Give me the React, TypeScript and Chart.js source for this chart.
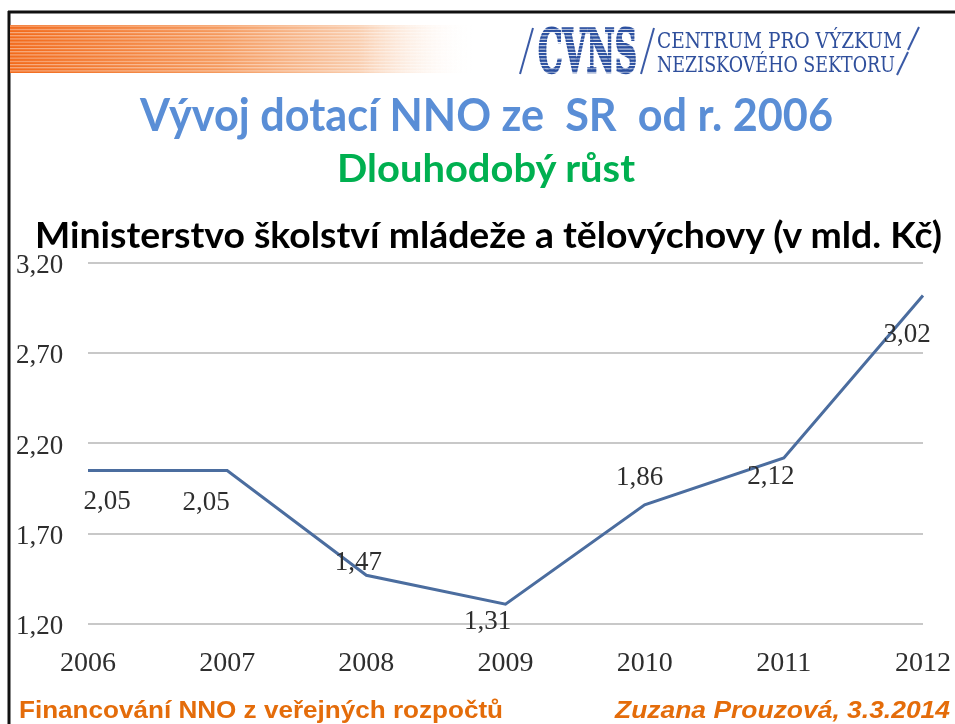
import React, { useEffect, useRef } from 'react';
import { Chart, registerables } from 'chart.js';

Chart.register(...registerables);

// ---- data ----
const years: string[] = ['2006', '2007', '2008', '2009', '2010', '2011', '2012'];
const values: number[] = [2.05, 2.05, 1.47, 1.31, 1.86, 2.12, 3.02];
const yTickValues: number[] = [1.2, 1.7, 2.2, 2.7, 3.2];
const yTickLabels: string[] = ['1,20', '1,70', '2,20', '2,70', '3,20'];

const titleText = 'Vývoj dotací NNO ze  SR  od r. 2006';
const subtitleText = 'Dlouhodobý růst';
const chartTitleText = 'Ministerstvo školství mládeže a tělovýchovy (v mld. Kč)';
const footerLeft = 'Financování NNO z veřejných rozpočtů';
const footerRight = 'Zuzana Prouzová, 3.3.2014';
const logoShort = 'CVNS';
const logoLine1 = 'CENTRUM PRO VÝZKUM';
const logoLine2 = 'NEZISKOVÉHO SEKTORU';

// label offsets from each point (style only)
const labelOffsets: number[][] = [
  [19, 31], [-21, 32], [-8, -12], [-18, 18], [-5, -27], [-13, 19], [-16, 39],
];

const fmt = (v: number) => v.toFixed(2).replace('.', ',');

const dataLabelPlugin = {
  id: 'dataLabels',
  afterDatasetsDraw(chart: any) {
    const meta = chart.getDatasetMeta(0);
    const ctx = chart.ctx;
    ctx.save();
    ctx.font = '27px "Liberation Serif"';
    ctx.fillStyle = '#2e2e2e';
    ctx.textAlign = 'center';
    ctx.textBaseline = 'middle';
    meta.data.forEach((pt: any, i: number) => {
      const o = labelOffsets[i] || [0, 0];
      ctx.fillText(fmt(values[i]), pt.x + o[0], pt.y + o[1]);
    });
    ctx.restore();
  },
};

function LineChart() {
  const ref = useRef<HTMLCanvasElement>(null);
  useEffect(() => {
    if (!ref.current) return;
    const chart = new Chart(ref.current, {
      type: 'line',
      data: {
        labels: years,
        datasets: [
          {
            data: values,
            borderColor: '#4b6d9f',
            borderWidth: 3,
            pointRadius: 0,
            tension: 0,
            fill: false,
          },
        ],
      },
      options: {
        responsive: false,
        animation: false,
        devicePixelRatio: 1,
        layout: { padding: { left: 16, right: 32, top: 18, bottom: 0 } },
        plugins: {
          legend: { display: false },
          tooltip: { enabled: false },
          title: { display: false },
        },
        scales: {
          x: {
            offset: false,
            grid: { display: false, drawTicks: false },
            border: { display: false },
            ticks: {
              font: { family: 'Liberation Serif', size: 28 },
              color: '#2e2e2e',
              padding: 23,
              maxRotation: 0,
              autoSkip: false,
            },
            afterFit: (s: any) => {
              s.height = 61;
              s.paddingLeft = 0;
              s.paddingRight = 0;
            },
          },
          y: {
            min: 1.2,
            max: 3.2,
            grid: { color: '#c8c8c8', lineWidth: 2, drawTicks: false },
            border: { display: false },
            ticks: {
              font: { family: 'Liberation Serif', size: 27 },
              color: '#2e2e2e',
              padding: 8,
              crossAlign: 'far',
              labelOffset: 3,
              callback: (_v: any, i: number) => yTickLabels[i],
            },
            afterBuildTicks: (s: any) => {
              s.ticks = yTickValues.map((v) => ({ value: v }));
            },
            afterFit: (s: any) => {
              s.width = 72;
              s.paddingTop = 0;
              s.paddingBottom = 0;
            },
          },
        },
      },
      plugins: [dataLabelPlugin],
    } as any);
    return () => chart.destroy();
  }, []);
  return (
    <canvas
      ref={ref}
      width={955}
      height={440}
      style={{ position: 'absolute', left: 0, top: 245, width: 955, height: 440 }}
    />
  );
}

export default function App() {
  return (
    <div
      style={{
        position: 'absolute',
        left: 0,
        top: 0,
        width: 955,
        height: 724,
        background: '#ffffff',
        overflow: 'hidden',
      }}
    >
      <LineChart />
      <svg
        width={955}
        height={724}
        style={{ position: 'absolute', left: 0, top: 0, pointerEvents: 'none' }}
      >
        <defs>
          <linearGradient id="band" x1="0" y1="0" x2="1" y2="0">
            <stop offset="0" stopColor="#f26a1b" />
            <stop offset="0.45" stopColor="#f59a5e" />
            <stop offset="0.75" stopColor="#f9cdae" />
            <stop offset="1" stopColor="#ffffff" stopOpacity="0" />
          </linearGradient>
          <pattern id="bandStripes" width="10" height="3.2" patternUnits="userSpaceOnUse">
            <rect x="0" y="0" width="10" height="1.1" fill="#ffffff" fillOpacity="0.45" />
          </pattern>
          <pattern id="logoStripes" width="10" height="3.3" patternUnits="userSpaceOnUse">
            <rect x="0" y="0" width="10" height="2.4" fill="#2a4f9f" />
          </pattern>
        </defs>

        {/* frame */}
        <line x1={8} y1={12} x2={955} y2={12} stroke="#111" strokeWidth={3} />
        <line x1={9} y1={11} x2={9} y2={724} stroke="#111" strokeWidth={3} />

        {/* orange band */}
        <rect x={10} y={25} width={465} height={48} fill="url(#band)" />
        <rect x={10} y={25} width={465} height={48} fill="url(#bandStripes)" />

        {/* logo */}
        <line x1={520} y1={74} x2={533} y2={28} stroke="#3a5aa6" strokeWidth={2} />
        <text
          x={538}
          y={72}
          textLength={99}
          lengthAdjust="spacingAndGlyphs"
          fontFamily="DejaVu Serif"
          fontWeight="bold"
          fontSize={60}
          fill="url(#logoStripes)"
          stroke="url(#logoStripes)"
          strokeWidth={2.5}
        >
          {logoShort}
        </text>
        <line x1={641} y1={74} x2={654} y2={28} stroke="#3a5aa6" strokeWidth={2} />
        <text
          x={657}
          y={48}
          textLength={245}
          lengthAdjust="spacingAndGlyphs"
          fontFamily="DejaVu Serif"
          fontSize={22}
          fill="#2f4f9c"
        >
          {logoLine1}
        </text>
        <text
          x={657}
          y={72}
          textLength={238}
          lengthAdjust="spacingAndGlyphs"
          fontFamily="DejaVu Serif"
          fontSize={22}
          fill="#2f4f9c"
        >
          {logoLine2}
        </text>
        <line x1={908} y1={50} x2={919} y2={27} stroke="#3a5aa6" strokeWidth={2} />
        <line x1={897} y1={75} x2={908} y2={52} stroke="#3a5aa6" strokeWidth={2} />

        {/* titles */}
        <text
          x={140}
          y={131}
          textLength={693}
          lengthAdjust="spacingAndGlyphs"
          fontFamily="Lato"
          fontWeight="bold"
          fontSize={45}
          fill="#5a8ed6"
          style={{ whiteSpace: 'pre' }}
        >
          {titleText}
        </text>
        <text
          x={337}
          y={182}
          textLength={298}
          lengthAdjust="spacingAndGlyphs"
          fontFamily="Lato"
          fontWeight="bold"
          fontSize={39}
          fill="#00b050"
        >
          {subtitleText}
        </text>
        <text
          x={35}
          y={248}
          textLength={907}
          lengthAdjust="spacingAndGlyphs"
          fontFamily="Lato"
          fontWeight="bold"
          fontSize={36}
          fill="#000000"
        >
          {chartTitleText}
        </text>

        {/* footer */}
        <text
          x={19}
          y={718}
          textLength={484}
          lengthAdjust="spacingAndGlyphs"
          fontFamily="Liberation Sans"
          fontWeight="bold"
          fontSize={24}
          fill="#e46c0a"
        >
          {footerLeft}
        </text>
        <text
          x={615}
          y={718}
          textLength={335}
          lengthAdjust="spacingAndGlyphs"
          fontFamily="Liberation Sans"
          fontWeight="bold"
          fontStyle="italic"
          fontSize={24}
          fill="#e46c0a"
        >
          {footerRight}
        </text>
      </svg>
    </div>
  );
}
